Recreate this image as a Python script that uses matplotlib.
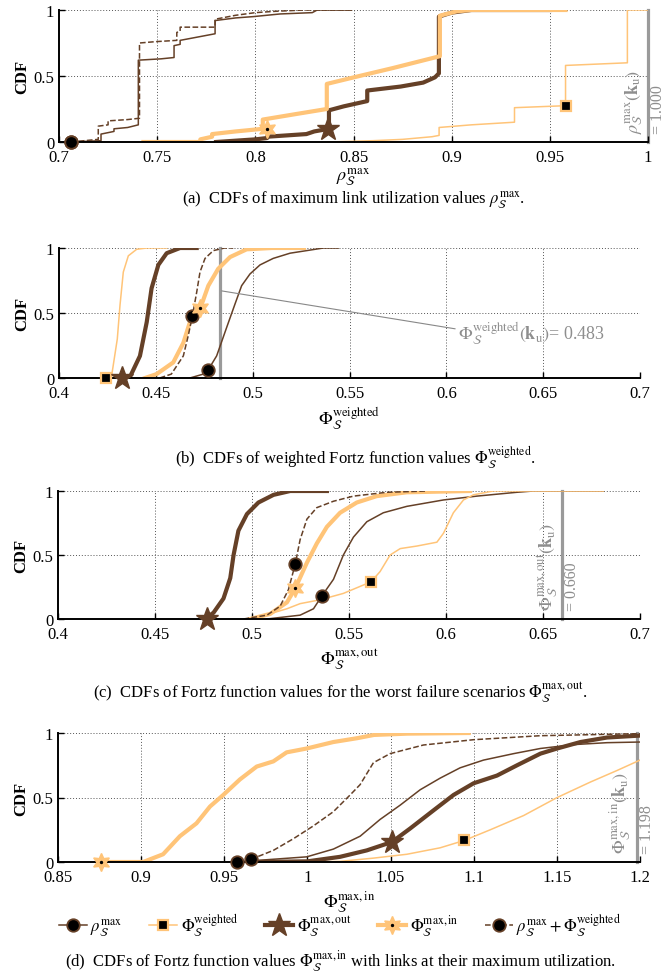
import matplotlib
matplotlib.use('Agg')
import matplotlib.pyplot as plt
from matplotlib.lines import Line2D

plt.rcParams['font.family'] = ['Liberation Serif', 'DejaVu Serif']
plt.rcParams['mathtext.fontset'] = 'stix'

BROWN = '#654027'
ORANGE = '#FFC478'
GRAY = '#9a9a9a'
TEXT_GRAY = '#8e8e8e'

# ---- (a) maximum link utilization ----
a_rho_x = [0.706, 0.7214, 0.7214, 0.728, 0.728, 0.735, 0.7404, 0.7404, 0.752, 0.7586, 0.7586, 0.7617, 0.7617,
           0.7795, 0.7795, 0.79, 0.799, 0.8126, 0.829, 0.8315, 0.849]
a_rho_y = [0.0, 0.01, 0.06, 0.08, 0.10, 0.11, 0.13, 0.62, 0.63, 0.64, 0.73, 0.74, 0.77,
           0.82, 0.92, 0.94, 0.95, 0.97, 0.98, 1.0, 1.0]
a_combo_x = [0.706, 0.72, 0.72, 0.725, 0.725, 0.735, 0.741, 0.741, 0.749, 0.760, 0.760, 0.7617, 0.7617,
             0.7795, 0.7795, 0.79, 0.80, 0.81, 0.825, 0.849]
a_combo_y = [0.0, 0.02, 0.12, 0.13, 0.16, 0.17, 0.18, 0.75, 0.76, 0.77, 0.83, 0.84, 0.87,
             0.87, 0.93, 0.96, 0.98, 0.99, 1.0, 1.0]
a_out_x = [0.78, 0.79, 0.80, 0.806, 0.806, 0.826, 0.83, 0.8375, 0.8375, 0.845, 0.857, 0.857, 0.874,
           0.8855, 0.8915, 0.8935, 0.8935, 0.90, 0.91, 0.95]
a_out_y = [0.0, 0.01, 0.02, 0.03, 0.04, 0.06, 0.08, 0.10, 0.24, 0.27, 0.31, 0.39, 0.42,
           0.45, 0.49, 0.52, 0.95, 0.98, 1.0, 1.0]
a_in_x = [0.743, 0.772, 0.772, 0.778, 0.778, 0.79, 0.8038, 0.8038, 0.82, 0.8364, 0.8364, 0.853, 0.87,
          0.894, 0.894, 0.9026, 0.91, 0.958]
a_in_y = [0.0, 0.0, 0.02, 0.04, 0.06, 0.08, 0.10, 0.17, 0.21, 0.25, 0.44, 0.50, 0.56,
          0.65, 0.957, 0.99, 1.0, 1.0]
a_wei_x = [0.837, 0.86, 0.875, 0.89, 0.8936, 0.8936, 0.91, 0.932, 0.932, 0.958, 0.958, 0.9895, 0.9895, 1.0]
a_wei_y = [0.0, 0.01, 0.02, 0.04, 0.05, 0.11, 0.13, 0.15, 0.26, 0.275, 0.58, 0.60, 1.0, 1.0]
# marker points: rho, weighted, out, in, combo
a_marks = [(0.706, 0.0), (0.958, 0.275), (0.837, 0.10), (0.806, 0.10), (0.706, 0.0)]

# ---- (b) weighted Fortz ----
b_rho_x = [0.4676, 0.4745, 0.4771, 0.4814, 0.4866, 0.4909, 0.4943, 0.4986, 0.5038, 0.5106, 0.5193, 0.5279,
           0.5365, 0.5442]
b_rho_y = [0.0, 0.03, 0.064, 0.17, 0.39, 0.57, 0.71, 0.80, 0.87, 0.92, 0.96, 0.98, 1.0, 1.0]
b_combo_x = [0.452, 0.458, 0.4642, 0.4668, 0.4689, 0.4711, 0.4728, 0.4754, 0.4797, 0.4855, 0.49]
b_combo_y = [0.0, 0.03, 0.17, 0.33, 0.48, 0.66, 0.815, 0.92, 0.98, 1.0, 1.0]
b_out_x = [0.433, 0.4367, 0.4418, 0.4453, 0.4478, 0.4513, 0.4556, 0.4625, 0.4711]
b_out_y = [0.0, 0.01, 0.17, 0.43, 0.69, 0.87, 0.96, 1.0, 1.0]
b_in_x = [0.4444, 0.4504, 0.459, 0.4642, 0.4676, 0.4728, 0.4771, 0.4822, 0.4883, 0.4969, 0.51, 0.5265]
b_in_y = [0.0, 0.03, 0.12, 0.27, 0.43, 0.53, 0.71, 0.84, 0.93, 0.99, 1.0, 1.0]
b_wei_x = [0.425, 0.427, 0.4301, 0.4315, 0.4332, 0.4358, 0.4401, 0.4453, 0.4556]
b_wei_y = [0.0, 0.0, 0.30, 0.56, 0.815, 0.94, 0.99, 1.0, 1.0]
b_marks = [(0.4771, 0.064), (0.4243, 0.0), (0.4325, 0.0), (0.4728, 0.54), (0.4689, 0.48)]

# ---- (c) worst failure scenarios ----
c_rho_x = [0.5077, 0.5248, 0.5317, 0.536, 0.542, 0.5471, 0.5523, 0.5592, 0.5677, 0.5798, 0.5987, 0.6159,
           0.6365, 0.645, 0.6811]
c_rho_y = [0.0, 0.03, 0.08, 0.18, 0.31, 0.50, 0.64, 0.76, 0.83, 0.88, 0.93, 0.96, 0.99, 1.0, 1.0]
c_combo_x = [0.4956, 0.5077, 0.5145, 0.5188, 0.5223, 0.5248, 0.5283, 0.5334, 0.542, 0.5523, 0.5695, 0.5901]
c_combo_y = [0.0, 0.03, 0.10, 0.23, 0.43, 0.62, 0.78, 0.87, 0.92, 0.96, 0.99, 1.0]
c_out_x = [0.4759, 0.4802, 0.4853, 0.4888, 0.4905, 0.4930, 0.4974, 0.5033, 0.5111, 0.5197, 0.5386]
c_out_y = [0.0, 0.05, 0.16, 0.32, 0.50, 0.69, 0.82, 0.91, 0.97, 1.0, 1.0]
c_in_x = [0.4991, 0.5094, 0.518, 0.5223, 0.5283, 0.5334, 0.5386, 0.5454, 0.554, 0.5643, 0.5798, 0.6124]
c_in_y = [0.0, 0.04, 0.13, 0.24, 0.44, 0.59, 0.72, 0.83, 0.91, 0.96, 0.99, 1.0]
c_wei_x = [0.50, 0.518, 0.5248, 0.5351, 0.5471, 0.5613, 0.566, 0.5712, 0.5764, 0.585, 0.5953, 0.5987,
           0.6038, 0.609, 0.6141, 0.6244, 0.6811]
c_wei_y = [0.0, 0.08, 0.12, 0.15, 0.20, 0.29, 0.37, 0.50, 0.55, 0.57, 0.60, 0.67,
           0.83, 0.93, 0.97, 1.0, 1.0]
c_marks = [(0.536, 0.18), (0.5613, 0.29), (0.4768, 0.0), (0.5223, 0.24), (0.5223, 0.43)]

# ---- (d) links at maximum utilization ----
d_rho_x = [0.9574, 0.9674, 0.9996, 1.0156, 1.0317, 1.0437, 1.0557, 1.0678, 1.0798, 1.0918, 1.1059, 1.124,
           1.1401, 1.1601, 1.1802, 1.2]
d_rho_y = [0.0, 0.01, 0.04, 0.10, 0.20, 0.33, 0.44, 0.56, 0.65, 0.73, 0.79, 0.84, 0.88, 0.91, 0.925, 0.93]
d_combo_x = [0.9659, 0.9795, 0.9915, 1.0036, 1.0156, 1.0257, 1.0317, 1.0397, 1.0497, 1.0698, 1.0999, 1.140, 1.2]
d_combo_y = [0.02, 0.09, 0.18, 0.28, 0.39, 0.52, 0.60, 0.77, 0.84, 0.907, 0.948, 0.979, 0.995]
d_out_x = [0.967, 1.0, 1.0196, 1.0357, 1.0508, 1.0618, 1.0758, 1.0879, 1.0999, 1.1140, 1.1261, 1.1401,
           1.1502, 1.1642, 1.1802, 1.2]
d_out_y = [0.0, 0.005, 0.04, 0.09, 0.155, 0.26, 0.40, 0.52, 0.61, 0.67, 0.75, 0.84, 0.88, 0.93, 0.965, 0.98]
d_in_x = [0.8761, 0.9012, 0.9072, 0.9132, 0.9233, 0.9333, 0.9414, 0.9494, 0.9594, 0.9695, 0.9795, 0.9875,
          0.9996, 1.0156, 1.03, 1.04, 1.06, 1.097]
d_in_y = [0.0, 0.0, 0.03, 0.06, 0.20, 0.30, 0.43, 0.52, 0.64, 0.74, 0.78, 0.85, 0.88, 0.93, 0.96, 0.985,
          0.995, 1.0]
d_wei_x = [1.0, 1.0196, 1.0397, 1.0598, 1.0798, 1.0943, 1.11, 1.13, 1.1502, 1.1702, 1.1863, 1.2]
d_wei_y = [0.0, 0.005, 0.03, 0.06, 0.11, 0.167, 0.25, 0.36, 0.50, 0.62, 0.71, 0.79]
d_marks = [(0.9574, 0.0), (1.0943, 0.167), (1.0508, 0.155), (0.8761, 0.0), (0.9659, 0.02)]

# reference values k_u
ref_vals = [1.000, 0.483, 0.660, 1.198]

x_ticks = [
    [0.7, 0.75, 0.8, 0.85, 0.9, 0.95, 1.0],
    [0.4, 0.45, 0.5, 0.55, 0.6, 0.65, 0.7],
    [0.4, 0.45, 0.5, 0.55, 0.6, 0.65, 0.7],
    [0.85, 0.9, 0.95, 1.0, 1.05, 1.1, 1.15, 1.2],
]
y_ticks = [0, 0.5, 1]

S = r'_{\mathcal{S}}'
x_labels = [
    r'$\rho' + S + r'^{\mathrm{max}}$',
    r'$\Phi' + S + r'^{\mathrm{weighted}}$',
    r'$\Phi' + S + r'^{\mathrm{max,out}}$',
    r'$\Phi' + S + r'^{\mathrm{max,in}}$',
]
ref_names = [
    r'$\rho' + S + r'^{\mathrm{max}}(\mathbf{k}_{\mathrm{u}})$',
    r'$\Phi' + S + r'^{\mathrm{weighted}}(\mathbf{k}_{\mathrm{u}})$',
    r'$\Phi' + S + r'^{\mathrm{max,out}}(\mathbf{k}_{\mathrm{u}})$',
    r'$\Phi' + S + r'^{\mathrm{max,in}}(\mathbf{k}_{\mathrm{u}})$',
]
captions = [
    r'(a)  CDFs of maximum link utilization values $\rho' + S + r'^{\mathrm{max}}$.',
    r'(b)  CDFs of weighted Fortz function values $\Phi' + S + r'^{\mathrm{weighted}}$.',
    r'(c)  CDFs of Fortz function values for the worst failure scenarios $\Phi' + S + r'^{\mathrm{max,out}}$.',
    r'(d)  CDFs of Fortz function values $\Phi' + S + r'^{\mathrm{max,in}}$ with links at their maximum utilization.',
]
legend_labels = [
    r'$\rho' + S + r'^{\mathrm{max}}$',
    r'$\Phi' + S + r'^{\mathrm{weighted}}$',
    r'$\Phi' + S + r'^{\mathrm{max,out}}$',
    r'$\Phi' + S + r'^{\mathrm{max,in}}$',
    r'$\rho' + S + r'^{\mathrm{max}}+\Phi' + S + r'^{\mathrm{weighted}}$',
]

# style per series: rho, weighted, out, in, combo
styles = [
    dict(color=BROWN, lw=1.1, ls='-', marker='o', mfc='black', mec=BROWN, ms=9, mew=1.3),
    dict(color=ORANGE, lw=1.1, ls='-', marker='s', mfc='black', mec=ORANGE, ms=7, mew=1.6),
    dict(color=BROWN, lw=3.0, ls='-', marker='*', mfc=BROWN, mec=BROWN, ms=17, mew=1),
    dict(color=ORANGE, lw=3.0, ls='-', marker=(6, 1, 0), mfc=ORANGE, mec=ORANGE, ms=13, mew=1),
    dict(color=BROWN, lw=1.1, ls='--', marker='o', mfc='black', mec=BROWN, ms=9, mew=1.3),
]
draw_order = [0, 4, 1, 2, 3]

panels = [
    (a_rho_x, a_rho_y, a_wei_x, a_wei_y, a_out_x, a_out_y, a_in_x, a_in_y, a_combo_x, a_combo_y, a_marks),
    (b_rho_x, b_rho_y, b_wei_x, b_wei_y, b_out_x, b_out_y, b_in_x, b_in_y, b_combo_x, b_combo_y, b_marks),
    (c_rho_x, c_rho_y, c_wei_x, c_wei_y, c_out_x, c_out_y, c_in_x, c_in_y, c_combo_x, c_combo_y, c_marks),
    (d_rho_x, d_rho_y, d_wei_x, d_wei_y, d_out_x, d_out_y, d_in_x, d_in_y, d_combo_x, d_combo_y, d_marks),
]

# axes boxes in pixels (left, right, top, bottom) of a 666x978 figure
W, H = 666, 978
boxes = [(59, 648, 11, 143), (59, 640, 249, 379), (58, 640, 492, 620), (58, 640, 734, 863)]
caption_pos = [(353, 200), (355, 458), (340, 693), (340, 962)]
xlabel_pad = [0, 2, 3, 3]

fig = plt.figure(figsize=(6.66, 9.78), dpi=100)

for i, (box, data) in enumerate(zip(boxes, panels)):
    l, r, t, b = box
    ax = fig.add_axes([l / W, 1 - b / H, (r - l) / W, (b - t) / H])
    xt = x_ticks[i]
    ax.set_xlim(xt[0], xt[-1])
    ax.set_ylim(0, 1)

    # grid
    for v in xt[1:]:
        ax.axvline(v, color='#555555', lw=0.7, ls=(0, (1, 2)), zorder=0)
    for v in y_ticks[1:]:
        ax.axhline(v, color='#555555', lw=0.7, ls=(0, (1, 2)), zorder=0)

    # reference line k_u
    ax.plot([ref_vals[i], ref_vals[i]], [0, 1], color=GRAY, lw=2.3, zorder=1, clip_on=False)

    series = [(data[0], data[1]), (data[2], data[3]), (data[4], data[5]), (data[6], data[7]), (data[8], data[9])]
    marks = data[10]
    for k in draw_order:
        st = styles[k]
        xs, ys = series[k]
        ax.plot(xs, ys, color=st['color'], lw=st['lw'], ls=st['ls'], zorder=2 + k * 0.1)
    for k in draw_order:
        st = styles[k]
        mx, my = marks[k]
        ax.plot([mx], [my], ls='none', marker=st['marker'], mfc=st['mfc'], mec=st['mec'],
                ms=st['ms'], mew=st['mew'], zorder=5, clip_on=False)
        if k == 3:
            ax.plot([mx], [my], ls='none', marker='o', color='black', ms=1.4, zorder=6, clip_on=False)

    ax.set_xticks(xt)
    ax.set_xticklabels([f'{v:g}' for v in xt])
    ax.set_yticks(y_ticks)
    ax.set_yticklabels([f'{v:g}' for v in y_ticks])
    ax.tick_params(direction='in', length=4, width=1, labelsize=12)
    ax.tick_params(axis='x', pad=5)
    ax.tick_params(axis='y', pad=3.5)
    for side in ['top', 'right']:
        ax.spines[side].set_visible(False)
    for side in ['left', 'bottom']:
        ax.spines[side].set_linewidth(1.4)
    ax.set_ylabel('CDF', fontsize=12, fontweight='bold', labelpad=2)
    ax.set_xlabel(x_labels[i], fontsize=13, labelpad=xlabel_pad[i])

    # reference label
    if i == 1:
        ax.annotate(ref_names[i] + '= 0.483', xy=(ref_vals[i] + 0.001, 0.67), xytext=(0.606, 0.35),
                    fontsize=13, color=TEXT_GRAY, va='center', ha='left',
                    arrowprops=dict(arrowstyle='-', color='#888888', lw=0.8, shrinkA=0, shrinkB=0,
                                    relpos=(0.0, 0.62)))
    else:
        ax.annotate(ref_names[i], xy=(ref_vals[i], 0.07), xytext=(-2, 0), textcoords='offset points',
                    rotation=90, ha='right', va='bottom', fontsize=13, color=TEXT_GRAY,
                    annotation_clip=False)
        ax.annotate(f'= {ref_vals[i]:.3f}', xy=(ref_vals[i], 0.07), xytext=(1.5, 0),
                    textcoords='offset points', rotation=90, ha='left', va='bottom', fontsize=11.5,
                    color=TEXT_GRAY, annotation_clip=False)

    cx, cy = caption_pos[i]
    fig.text(cx / W, 1 - cy / H, captions[i], ha='center', va='center', fontsize=12)

# legend
handles = []
for k in range(5):
    st = styles[k]
    h = Line2D([], [], color=st['color'], lw=st['lw'], ls=st['ls'], marker=st['marker'], mfc=st['mfc'],
               mec=st['mec'], ms=st['ms'], mew=st['mew'])
    if k == 3:
        h = (h, Line2D([], [], ls='none', marker='o', color='black', ms=1.4))
    handles.append(h)
fig.legend(handles, legend_labels, loc='center', bbox_to_anchor=(340 / W, 1 - 926 / H), ncol=5,
           frameon=False, fontsize=12, handlelength=1.7, handletextpad=0.2, columnspacing=1.6,
           numpoints=1)

fig.savefig('out.png', dpi=100)
